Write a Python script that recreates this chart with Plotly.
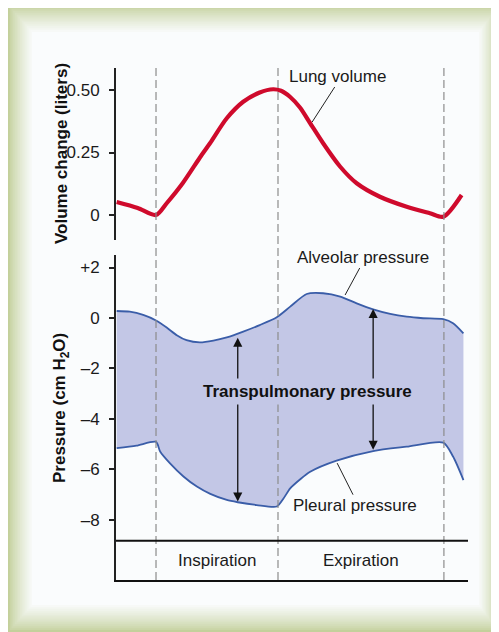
import plotly.graph_objects as go

# phase boundaries (time units) and labels
PHASE_EDGES = [0.0, 2.0, 4.72]
PHASE_LABELS = ["Inspiration", "Expiration"]

# lung volume curve
VOL_T = [-0.645, -0.3, 0.0, 0.175, 0.44, 0.72, 0.885, 1.16, 1.43, 1.70, 1.92, 2.05,
         2.2, 2.36, 2.52, 2.74, 3.02, 3.29, 3.67, 4.11, 4.49, 4.71, 5.01]
VOLUME = [0.052, 0.028, 0.0, 0.047, 0.128, 0.23, 0.287, 0.387, 0.453, 0.49, 0.503, 0.497,
          0.472, 0.43, 0.37, 0.287, 0.193, 0.127, 0.073, 0.033, 0.007, -0.007, 0.08]

# alveolar pressure curve
ALV_T = [-0.645, -0.43, -0.21, 0.0, 0.175, 0.34, 0.5, 0.72, 0.94, 1.16, 1.43, 1.70, 1.98,
         2.2, 2.47, 2.74, 3.02, 3.29, 3.56, 3.84, 4.11, 4.38, 4.71, 4.87, 5.04]
ALVEOLAR = [0.277, 0.25, 0.12, -0.1, -0.38, -0.68, -0.88, -0.97, -0.9, -0.77, -0.54, -0.28, 0.03,
            0.45, 0.95, 0.98, 0.85, 0.58, 0.34, 0.16, 0.05, -0.01, -0.05, -0.21, -0.61]

# pleural pressure curve
PLE_T = [-0.645, -0.32, 0.0, 0.07, 0.23, 0.45, 0.67, 0.89, 1.16, 1.34, 1.65, 1.98,
         2.09, 2.2, 2.36, 2.52, 2.96, 3.56, 4.11, 4.71, 4.87, 5.04]
PLEURAL = [-5.16, -5.06, -4.91, -5.3, -5.76, -6.28, -6.68, -6.97, -7.21, -7.3, -7.41, -7.47,
           -7.15, -6.75, -6.4, -6.1, -5.65, -5.27, -5.1, -4.94, -5.49, -6.42]

VOL_TICKS = [0, 0.25, 0.5]
VOL_TICKTEXT = ["0", "0.25", "0.50"]
P_TICKS = [2, 0, -2, -4, -6, -8]
P_TICKTEXT = ["+2", "0", "–2", "–4", "–6", "–8"]

# page pixel layout; the page body has an 8px margin
W, H, OFF = 499, 632, 8
L, R, T, B = 116, 468, 68, 580


def px(x):
    return (x - L) / (R - L)


def py(y):
    return (B - y) / (B - T)


FONT = "Liberation Sans, Arial, sans-serif"
RED = "#cf0a2c"
BLUE = "#3a5da8"
FILL = "#c3c7e6"
FS = 17

fig = go.Figure()
fig.add_trace(go.Scatter(x=VOL_T, y=VOLUME, mode="lines", xaxis="x", yaxis="y",
                         line=dict(color=RED, width=4.2, shape="spline", smoothing=0.8),
                         hoverinfo="skip"))
fig.add_trace(go.Scatter(x=PLE_T, y=PLEURAL, mode="lines", xaxis="x2", yaxis="y2",
                         line=dict(color=BLUE, width=1.8, shape="spline", smoothing=0.7),
                         hoverinfo="skip"))
fig.add_trace(go.Scatter(x=ALV_T, y=ALVEOLAR, mode="lines", xaxis="x2", yaxis="y2",
                         fill="tonexty", fillcolor=FILL,
                         line=dict(color=BLUE, width=1.8, shape="spline", smoothing=0.7),
                         hoverinfo="skip"))

shapes = []


# green bevelled frame
def lerp(c1, c2, f):
    a = [int(c1[i:i + 2], 16) for i in (1, 3, 5)]
    b = [int(c2[i:i + 2], 16) for i in (1, 3, 5)]
    return "#" + "".join(f"{round(a[i] + (b[i] - a[i]) * f):02x}" for i in range(3))


steps = 14
for i in range(steps + 1):
    f = i / steps
    x0, y0, x1, y1 = 8 + 24 * f, 5 + 27 * f, 499 - 20 * f, 632 - 27 * f
    shapes.append(dict(type="rect", xref="paper", yref="paper", layer="below",
                       x0=px(x0), x1=px(x1), y0=py(y1), y1=py(y0), line=dict(width=0),
                       fillcolor=lerp("#c3d09b", "#fafcfd", f ** 0.8)))

# phase dashed lines
for e in PHASE_EDGES:
    shapes.append(dict(type="line", xref="x", yref="paper", x0=e, x1=e, y0=0, y1=1,
                       line=dict(color="#8c8c8c", width=1.2, dash="8px,4px"), layer="above"))

# separator for phase labels
shapes.append(dict(type="line", xref="paper", yref="y2", x0=0, x1=1, y0=-8.83, y1=-8.83,
                   line=dict(color="#111111", width=2)))

# leader lines
shapes.append(dict(type="line", xref="x", yref="y", x0=2.93, y0=0.512, x1=2.56, y1=0.372,
                   line=dict(color="#222222", width=1)))
shapes.append(dict(type="line", xref="x2", yref="y2", x0=3.34, y0=1.98, x1=3.10, y1=0.91,
                   line=dict(color="#222222", width=1)))
shapes.append(dict(type="line", xref="x2", yref="y2", x0=2.97, y0=-5.75, x1=3.23, y1=-7.0,
                   line=dict(color="#222222", width=1)))

annotations = []
txt = dict(showarrow=False, font=dict(family=FONT, size=FS, color="#1a1a1a"))
annotations.append(dict(text="Lung volume", x=2.97, y=0.556, xref="x", yref="y", **txt))
annotations.append(dict(text="Alveolar pressure", x=3.4, y=2.38, xref="x2", yref="y2", **txt))
annotations.append(dict(text="Pleural pressure", x=3.27, y=-7.41, xref="x2", yref="y2", **txt))
for i, lab in enumerate(PHASE_LABELS):
    annotations.append(dict(text=lab, x=(PHASE_EDGES[i] + PHASE_EDGES[i + 1]) / 2, y=-9.62,
                            xref="x2", yref="y2", **txt))

# transpulmonary double arrows
arrow = dict(showarrow=True, arrowhead=2, arrowsize=1.4, arrowwidth=1.3, arrowcolor="#111111",
             text="", xref="x2", yref="y2", axref="x2", ayref="y2", standoff=0)
for xa, top, bot in [(1.34, -0.78, -7.27), (3.56, 0.36, -5.22)]:
    annotations.append(dict(x=xa, y=top, ax=xa, ay=-2.93, **arrow))
    annotations.append(dict(x=xa, y=bot, ax=xa, ay=-2.93, **arrow))
annotations.append(dict(text="<b>Transpulmonary pressure</b>", x=2.48, y=-2.93, xref="x2", yref="y2",
                        showarrow=False, bgcolor=FILL, borderpad=3,
                        font=dict(family=FONT, size=FS, color="#111111")))

# axis titles
for label, yc in [("<b>Volume change (liters)</b>", 154), ("<b>Pressure (cm H<sub>2</sub>O)</b>", 408)]:
    annotations.append(dict(text=label, x=px(61), y=py(yc), xref="paper", yref="paper",
                            xanchor="center", yanchor="middle", textangle=-90, showarrow=False,
                            font=dict(family=FONT, size=FS, color="#111111")))

xr = [-0.656, 5.115]
yax = dict(showline=True, linecolor="#222222", linewidth=2, ticks="outside", ticklen=5,
           tickwidth=1.5, tickcolor="#222222", showgrid=False, zeroline=False,
           ticklabelstandoff=6,
           tickfont=dict(family=FONT, size=FS, color="#1a1a1a"), fixedrange=True)

fig.update_layout(
    width=W - OFF, height=H - OFF, autosize=False,
    margin=dict(l=L - OFF, r=W - R, t=T - OFF, b=H - B, pad=0),
    paper_bgcolor="white", plot_bgcolor="rgba(0,0,0,0)",
    showlegend=False,
    xaxis=dict(domain=[0, 1], anchor="y", range=xr, visible=False),
    xaxis2=dict(domain=[0, 1], anchor="y2", range=xr, showticklabels=False, ticks="",
                showline=True, linecolor="#111111", linewidth=2, showgrid=False, zeroline=False),
    yaxis=dict(domain=[py(240), 1], range=[-0.1, 0.588], tickvals=VOL_TICKS,
               ticktext=VOL_TICKTEXT, **yax),
    yaxis2=dict(domain=[0, py(255)], range=[-10.38, 2.495], tickvals=P_TICKS,
                ticktext=P_TICKTEXT, **yax),
    shapes=shapes,
    annotations=annotations,
)

fig.write_html("out.html")
